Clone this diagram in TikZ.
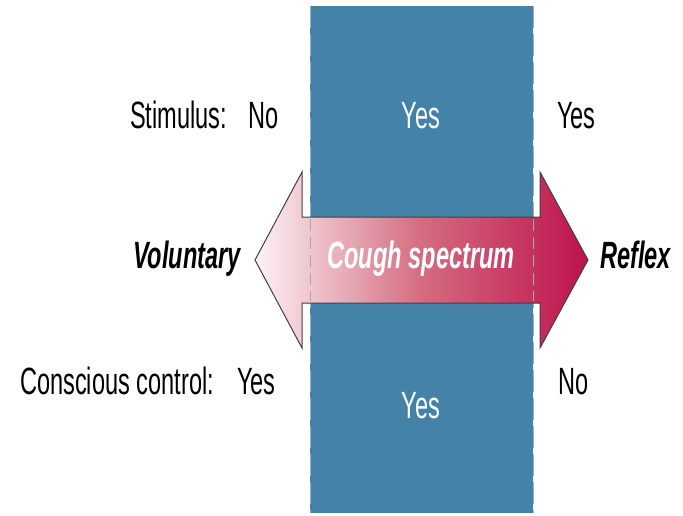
\documentclass[tikz,border=0pt]{standalone}
\usepackage{fontspec}
\setmainfont{Liberation Sans}[FakeStretch=0.62]
\definecolor{bandblue}{RGB}{68,130,168}
\definecolor{coughred}{RGB}{190,18,76}
\definecolor{coughmid}{RGB}{212,108,128}
\definecolor{coughpale}{RGB}{253,242,245}
\begin{document}
\begin{tikzpicture}[x=1pt,y=-1pt,
    lbl/.style={anchor=base west,inner sep=0pt,font=\fontsize{38}{44}\selectfont},
    inlbl/.style={anchor=base,inner sep=0pt,text=white,font=\fontsize{38}{44}\selectfont},
    endlbl/.style={anchor=base west,inner sep=0pt,font=\fontsize{38}{44}\selectfont\bfseries\itshape}]
    \useasboundingbox (0,0) rectangle (683,515);

    % blue band
    \fill[bandblue] (310,6) rectangle (533,513);
    \draw[bandblue!60!white,dash pattern=on 22pt off 6pt] (310,6) -- (310,513);
    \draw[bandblue!60!white,dash pattern=on 22pt off 6pt] (533,6) -- (533,513);

    % double arrow
    \path[left color=coughpale,right color=coughred,middle color=coughmid,
          draw=black!75,line width=1pt]
        (255,260) -- (302,172) -- (302,217) -- (540,217) -- (540,172)
        -- (588,260) -- (540,348) -- (540,303) -- (302,303) -- (302,348)
        -- cycle;
    \draw[black!35,dash pattern=on 12pt off 6pt] (310,219) -- (310,301);
    \draw[black!35,dash pattern=on 12pt off 6pt] (533,219) -- (533,301);

    \node[inlbl,font=\fontsize{38}{44}\selectfont\bfseries\itshape]
        (spectrum) at (421,268) {Cough spectrum};
    \node[endlbl,anchor=base east] (voluntary) at (241,268) {Voluntary};
    \node[endlbl] (reflex) at (600,268) {Reflex};

    % stimulus row
    \node[lbl] (stimulus) at (130,128) {Stimulus:};
    \node[lbl] (stim-no) at (248,128) {No};
    \node[inlbl] (stim-mid) at (421,128) {Yes};
    \node[lbl] (stim-yes) at (557,128) {Yes};

    % conscious control row
    \node[lbl] (control) at (20,394) {Conscious control:};
    \node[lbl] (ctrl-yes) at (237,394) {Yes};
    \node[inlbl] (ctrl-mid) at (421,418) {Yes};
    \node[lbl] (ctrl-no) at (558,394) {No};
\end{tikzpicture}
\end{document}
